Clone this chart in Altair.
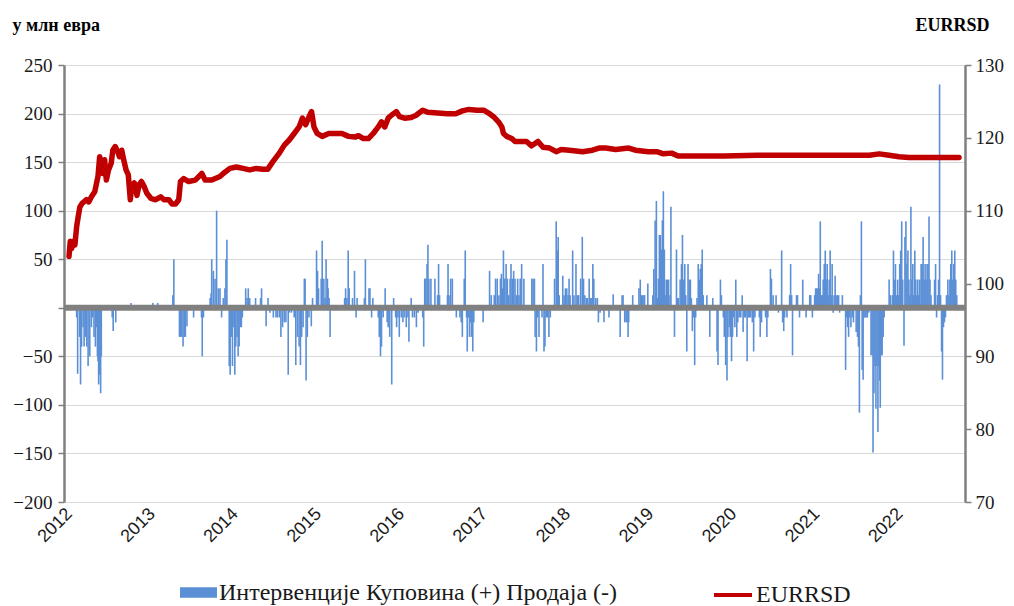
import altair as alt
import pandas as pd

# ---------------- data ----------------
year_ticks = list(range(2012, 2023))
left_ticks = list(range(-200, 251, 50))
right_ticks = list(range(70, 131, 10))

bar_label = "Интервенције Куповина (+) Продаја (-)"
fx_label = "EURRSD"

# interventions: time as years since 1 Jan 2012, value in EUR mn
bar_t = [
    0.092, 0.104, 0.127, 0.139, 0.151, 0.170, 0.182, 0.199, 0.214, 0.230,
    0.250, 0.270, 0.286, 0.301, 0.318, 0.333, 0.342, 0.349, 0.357, 0.369,
    0.381, 0.389, 0.520, 0.532, 0.563, 0.746,
    1.008, 1.068, 1.250, 1.262, 1.330, 1.345, 1.357, 1.373, 1.387, 1.401,
    1.420, 1.500, 1.595, 1.604, 1.619, 1.699, 1.711, 1.718, 1.738, 1.758,
    1.777, 1.798, 1.818, 1.837, 1.857, 1.877, 1.889, 1.901, 1.929, 1.940,
    1.956, 1.968, 1.985, 1.996,
    2.008, 2.024, 2.036, 2.048, 2.063, 2.075, 2.087, 2.127, 2.143, 2.158,
    2.175, 2.246, 2.306, 2.318, 2.373, 2.396, 2.420, 2.460, 2.492, 2.508,
    2.532, 2.551, 2.571, 2.592, 2.611, 2.639, 2.655, 2.679, 2.711, 2.730,
    2.750, 2.770, 2.786, 2.801, 2.818, 2.833, 2.842, 2.854, 2.869, 2.889,
    2.917, 2.932, 2.980, 2.992,
    3.004, 3.036, 3.048, 3.068, 3.083, 3.095, 3.111, 3.119, 3.131, 3.143,
    3.318, 3.330, 3.345, 3.361, 3.373, 3.413, 3.437, 3.456, 3.468, 3.556,
    3.568, 3.611, 3.623, 3.643, 3.658, 3.723, 3.735, 3.750, 3.762, 3.782,
    3.806, 3.830, 3.842, 3.861, 3.885, 3.908, 3.932, 3.944, 3.960, 3.976,
    4.000, 4.020, 4.039, 4.060, 4.080, 4.092, 4.119, 4.135, 4.158, 4.182,
    4.202, 4.258, 4.270, 4.282, 4.294, 4.310, 4.321, 4.333, 4.357, 4.405,
    4.437, 4.449, 4.461, 4.556, 4.563, 4.575, 4.595, 4.615, 4.663, 4.706,
    4.722, 4.735, 4.758, 4.770, 4.786, 4.794, 4.810, 4.821, 4.833, 4.845,
    4.861, 4.873, 4.985,
    5.063, 5.083, 5.119, 5.135, 5.155, 5.175, 5.194, 5.206, 5.218, 5.230,
    5.246, 5.262, 5.277, 5.294, 5.310, 5.321, 5.337, 5.353, 5.369, 5.385,
    5.401, 5.417, 5.432, 5.449, 5.476, 5.571, 5.587, 5.603, 5.611, 5.627,
    5.643, 5.658, 5.694, 5.706, 5.718, 5.730, 5.746, 5.762, 5.777, 5.794,
    5.845, 5.865, 5.877, 5.889, 5.901, 5.944, 5.960, 5.976, 5.992,
    6.008, 6.020, 6.032, 6.063, 6.079, 6.103, 6.119, 6.135, 6.159, 6.179,
    6.194, 6.210, 6.230, 6.242, 6.262, 6.277, 6.294, 6.306, 6.318, 6.341,
    6.361, 6.373, 6.393, 6.440, 6.500, 6.551, 6.635, 6.658, 6.670, 6.690,
    6.706, 6.718, 6.730, 6.738, 6.786, 6.861, 6.877, 6.889, 6.905, 6.921,
    6.929, 6.968,
    7.028, 7.040, 7.056, 7.071, 7.083, 7.095, 7.107, 7.119, 7.131, 7.143,
    7.155, 7.167, 7.179, 7.190, 7.206, 7.218, 7.235, 7.246, 7.289, 7.313,
    7.325, 7.337, 7.357, 7.373, 7.385, 7.401, 7.413, 7.425, 7.437, 7.452,
    7.468, 7.480, 7.492, 7.504, 7.520, 7.532, 7.544, 7.560, 7.575, 7.587,
    7.599, 7.611, 7.623, 7.635, 7.679, 7.714, 7.750, 7.801, 7.813, 7.842,
    7.854, 7.877, 7.889, 7.905, 7.921, 7.932, 7.949, 7.960, 7.976, 7.988,
    8.000, 8.016, 8.027, 8.039, 8.051, 8.068, 8.087, 8.104, 8.115, 8.131,
    8.146, 8.163, 8.175, 8.190, 8.206, 8.226, 8.242, 8.258, 8.310, 8.321,
    8.337, 8.385, 8.401, 8.413, 8.444, 8.456, 8.476, 8.512, 8.540, 8.579,
    8.591, 8.604, 8.615, 8.643, 8.675, 8.687, 8.699, 8.710, 8.758, 8.770,
    8.794, 8.833, 8.873, 8.917, 8.929, 8.949, 8.976, 8.988,
    9.000, 9.012, 9.024, 9.036, 9.044, 9.056, 9.068, 9.079, 9.092, 9.104,
    9.115, 9.127, 9.139, 9.151, 9.163, 9.175, 9.187, 9.199, 9.210, 9.223,
    9.235, 9.250, 9.265, 9.277, 9.310, 9.349, 9.361, 9.373, 9.385, 9.396,
    9.413, 9.429, 9.444, 9.476, 9.492, 9.504, 9.515, 9.527, 9.539, 9.548,
    9.560, 9.571, 9.583, 9.595, 9.611, 9.627, 9.655, 9.667, 9.679, 9.690,
    9.702, 9.714, 9.726, 9.738, 9.750, 9.758, 9.766, 9.777, 9.789, 9.801,
    9.813, 9.873, 9.889, 9.913, 9.925, 9.937, 9.949, 9.960, 9.976, 9.988,
    10.000, 10.012, 10.024, 10.036, 10.052, 10.063, 10.075, 10.087, 10.099, 10.111,
    10.123, 10.135, 10.147, 10.158, 10.170, 10.182, 10.194, 10.206, 10.218, 10.230,
    10.242, 10.258, 10.270, 10.282, 10.294, 10.306, 10.318, 10.330, 10.341, 10.353,
    10.365, 10.377, 10.420, 10.432, 10.444, 10.456, 10.468, 10.480, 10.492, 10.504,
    10.515, 10.527, 10.539, 10.551, 10.563, 10.580, 10.592, 10.604, 10.615, 10.627,
    10.639, 10.651, 10.663, 10.675, 10.687,
]
bar_v = [
    -10, -68, -30, -79, -40, -20, -40, -30, -40, -60,
    -50, -20, -10, -30, -40, -20, -50, -55, -79, -69,
    -88, -50, -10, -24, -15, 5,
    5, 5, 13, 50, -30, -30, -30, -40, -30, -30,
    -19, -10, -10, -50, -10, 10, 15, 50, 38, 30,
    100, 20, 20, -10, 10, 20, 50, 70, -60, -69,
    -30, -60, -20, -69,
    -40, -30, -50, -40, -20, -20, -10, 20, 10, 20,
    10, 10, 10, 20, -19, 10, -5, -10, -10, -10,
    -10, -30, -20, -15, -15, -69, -5, -5, -10, -59,
    -30, -40, -59, -30, -20, 30, 30, -75, -30, -10,
    -19, 10, 59, 38,
    20, 30, 69, 30, 10, 50, 30, 20, 10, -30,
    10, 20, 10, 59, 20, 10, 38, -10, 10, 10,
    50, 20, 20, -10, 10, -10, -30, -50, -40, -10,
    20, -15, -20, -30, -79, 10, -10, -20, -10, -30,
    -10, -15, -10, -20, -10, -35, 10, -10, -10, -20,
    -5, -10, -40, 30, 30, 45, 65, 30, 30, 30,
    13, 45, 13, 13, 45, 13, 30, 30, -10, -10,
    -15, -30, 30, 59, -10, -45, -10, -30, -15, -30,
    -45, -15, -15,
    38, 13, 13, 30, 30, 13, 30, 35, 20, 59,
    30, 45, 30, 13, 30, 45, 30, 38, 30, 13,
    30, 13, 30, 45, 30, 30, 30, 30, -30, -45,
    -10, -30, -10, 45, -45, -40, -10, -10, -30, -10,
    30, 89, 59, 73, 13, 33, 13, 20, 20,
    13, 30, 13, 59, 13, 45, 13, 13, 30, 73,
    30, 13, 10, 10, 30, 10, 10, 45, 30, 10,
    10, -15, -5, -15, -10, 14, -30, 13, 13, -15,
    -15, -15, -30, -15, 13, 20, 29, 13, 13, 13,
    13, 25,
    13, 40, 90, 110, 10, 30, 75, 75, 60, 90,
    120, 60, 13, 29, 29, 29, 13, 104, -30, 60,
    10, 10, 29, 45, 75, 29, 45, 13, -45, 45,
    29, 29, 10, -24, -10, -59, -10, 10, 45, 29,
    40, 45, 60, 13, 13, -30, 10, -45, -59, 29,
    13, -10, -30, -59, -75, -30, -20, -30, -55, -30,
    -10, -20, 29, -30, -15, -10, -10, 13, -25, -10,
    -10, -55, -10, -10, -10, -15, -45, -10, -10, -30,
    -15, -10, -30, -10, 40, 30, 13, 13, -5, 59,
    -15, -24, -10, -10, 13, 45, 13, -49, 13, 13,
    -10, 29, -10, 13, 13, -10, 13, 20,
    20, 20, 35, 20, 89, 13, 13, 29, 45, 59,
    29, 45, 13, 29, 59, 13, 45, -5, 13, 33,
    13, 13, 13, -5, 13, -64, -10, -20, -30, -10,
    -20, -10, -15, -25, -30, -40, -108, 13, 89, -64,
    -74, -10, -10, -10, -10, -5, -49, -49, -149, -88,
    -60, -104, -60, -128, -60, -75, -103, -49, -49, -30,
    -10, 29, 13, 13, 59, 29, 45, 13, 29, 13,
    45, 59, 89, 29, -39, 73, 89, 45, 59, 29,
    13, 104, 29, 45, 13, 59, 29, 13, 29, 13,
    29, 45, 45, 73, 29, 45, 29, 45, 45, 94,
    29, 13, 29, 45, -10, 13, 29, 230, 13, -45,
    -74, -20, -15, -10, 13, 29, 13, 29, 45, 59,
    29, 45, 59, 29, 13,
]

# EURRSD exchange rate: time as years since 1 Jan 2012
fx_t = [
    0.000, 0.015, 0.032, 0.051, 0.071, 0.092, 0.111, 0.131, 0.158, 0.211,
    0.238, 0.270, 0.310, 0.349, 0.369, 0.389, 0.408, 0.429, 0.449, 0.476,
    0.508, 0.527, 0.556, 0.587, 0.607, 0.635, 0.658, 0.687, 0.714, 0.738,
    0.754, 0.786, 0.818, 0.845, 0.873, 0.905, 0.937, 0.985,
    1.044, 1.104, 1.143, 1.202, 1.242, 1.282, 1.321, 1.342, 1.381, 1.440,
    1.520, 1.599, 1.639, 1.718, 1.818, 1.857, 1.937,
    2.015, 2.095, 2.175, 2.254, 2.333, 2.393, 2.452, 2.532, 2.592, 2.651,
    2.711, 2.770, 2.810, 2.849, 2.889, 2.920, 2.949, 2.988,
    3.048, 3.127, 3.206, 3.286, 3.365, 3.444, 3.485, 3.544, 3.604, 3.663,
    3.723, 3.762, 3.801, 3.842, 3.881, 3.940, 3.980,
    4.039, 4.119, 4.179, 4.258, 4.318, 4.437, 4.556, 4.655, 4.735, 4.813,
    4.913, 4.992,
    5.051, 5.111, 5.170, 5.211, 5.230, 5.270, 5.330, 5.369, 5.429, 5.508,
    5.568, 5.646, 5.706, 5.786, 5.865, 5.925,
    6.024, 6.182, 6.301, 6.381, 6.461, 6.580, 6.738, 6.818, 6.976,
    7.075, 7.155, 7.254, 7.333, 7.492, 7.690, 7.889,
    8.286, 9.080, 9.635, 9.754, 9.873, 9.992, 10.111, 10.714,
]
fx_v = [
    103.7, 105.8, 104.8, 105.8, 105.3, 107.8, 109.2, 110.5, 111.0, 111.5,
    111.2, 111.9, 112.6, 114.7, 117.4, 116.5, 115.1, 117.0, 114.2, 115.6,
    116.5, 118.3, 118.8, 118.1, 117.4, 118.3, 117.0, 115.6, 114.9, 111.5,
    113.3, 113.8, 112.1, 113.6, 114.0, 113.3, 112.4, 111.7,
    111.5, 111.9, 111.5, 111.5, 110.9, 110.9, 111.5, 114.0, 114.4, 114.0,
    114.2, 115.1, 114.2, 114.2, 114.7, 115.1, 115.8,
    116.0, 115.8, 115.6, 115.8, 115.7, 115.7, 116.7, 117.9, 119.0, 119.7,
    120.6, 121.5, 122.7, 121.8, 122.9, 123.6, 121.5, 120.6,
    120.2, 120.6, 120.6, 120.6, 120.2, 120.1, 120.3, 119.9, 119.9, 120.6,
    121.5, 122.2, 121.5, 122.7, 123.1, 123.6, 122.9,
    122.7, 122.8, 123.1, 123.8, 123.5, 123.4, 123.3, 123.3, 123.7, 123.9,
    123.8, 123.8,
    123.4, 122.9, 122.2, 121.5, 120.6, 120.2, 119.9, 119.5, 119.5, 119.5,
    118.9, 119.5, 118.7, 118.6, 118.1, 118.4,
    118.3, 118.1, 118.3, 118.6, 118.6, 118.4, 118.6, 118.3, 118.1,
    118.1, 117.8, 117.9, 117.5, 117.5, 117.5, 117.5,
    117.6, 117.6, 117.6, 117.8, 117.6, 117.4, 117.3, 117.3,
]

assert len(bar_t) == len(bar_v), (len(bar_t), len(bar_v))
assert len(fx_t) == len(fx_v), (len(fx_t), len(fx_v))

BLUE = "#5B8FD6"
RED = "#C00000"
GRAY = "#808080"
GRID = "#D9D9D9"
TXT = "#1a1a1a"
SERIF = "Liberation Serif"

bars_df = pd.DataFrame({"year": [2012 + t for t in bar_t], "value": bar_v,
                        "series": bar_label})
fx_df = pd.DataFrame({"year": [2012 + t for t in fx_t], "rate": fx_v,
                      "series": fx_label})
zero_df = pd.DataFrame({"value": [0]})

x_scale = alt.Scale(domain=[2012, 2022.726], nice=False, zero=False)
x_axis = alt.Axis(values=year_ticks, format="d", labelAngle=-45,
                  labelAlign="right", labelBaseline="middle", labelPadding=9,
                  labelFont="Liberation Sans", labelFontSize=18, labelColor=TXT,
                  domain=False, ticks=False, grid=False, title=None,
                  labelOverlap=False, labelFlush=False)

left_axis = alt.Axis(values=left_ticks, labelExpr="datum.value == 0 ? '' : datum.label",
                     title="у млн евра", titleAngle=0, titleAlign="left",
                     titleBaseline="middle", titleX=-52, titleY=-40,
                     titleFont=SERIF, titleFontSize=18,
                     titleFontWeight="bold", titleColor="#000",
                     labelFont=SERIF, labelFontSize=19,
                     labelColor=TXT, labelPadding=6, tickSize=6,
                     tickColor=GRAY, tickWidth=1.5, domainColor=GRAY,
                     domainWidth=2.5, grid=True, gridColor=GRID, gridWidth=1.2)

right_axis = alt.Axis(orient="right", values=right_ticks, title=fx_label,
                      titleAngle=0, titleAlign="center", titleBaseline="middle",
                      titleX=-13, titleY=-40, titleFont=SERIF,
                      titleFontSize=18, titleFontWeight="bold", titleColor="#000",
                      labelFont=SERIF, labelFontSize=19,
                      labelColor=TXT, labelPadding=4, tickSize=6,
                      tickColor=GRAY, tickWidth=1.5, domainColor=GRAY,
                      domainWidth=2.5, grid=False)

bars = alt.Chart(bars_df).mark_bar(size=1.6).encode(
    x=alt.X("year:Q", scale=x_scale, axis=x_axis),
    y=alt.Y("value:Q", scale=alt.Scale(domain=[-200, 250], nice=False),
            axis=left_axis),
    color=alt.Color("series:N",
                    scale=alt.Scale(domain=[bar_label], range=[BLUE]),
                    legend=alt.Legend(title=None, orient="none", legendX=116,
                                      legendY=509, padding=0,
                                      symbolType="M-1,-0.28H1V0.28H-1Z",
                                      symbolSize=1369, symbolStrokeWidth=0,
                                      labelFont=SERIF,
                                      labelFontSize=24, labelColor=TXT,
                                      labelLimit=800, labelOffset=2)),
)

zero_line = alt.Chart(zero_df).mark_rule(color=GRAY, strokeWidth=6).encode(
    y=alt.Y("value:Q")
)

left = alt.layer(bars, zero_line)

fx_line = alt.Chart(fx_df).mark_line(strokeWidth=5.5, strokeJoin="round",
                                     strokeCap="round").encode(
    x=alt.X("year:Q", scale=x_scale, axis=x_axis),
    y=alt.Y("rate:Q", scale=alt.Scale(domain=[70, 130], nice=False, zero=False),
            axis=right_axis),
    stroke=alt.Stroke("series:N",
                      scale=alt.Scale(domain=[fx_label], range=[RED]),
                      legend=alt.Legend(title=None, orient="none", legendX=648,
                                        legendY=509, padding=0,
                                        symbolType="stroke", symbolSize=1444,
                                        symbolStrokeWidth=4,
                                        symbolStrokeColor=RED,
                                        labelFont=SERIF,
                                        labelFontSize=24, labelColor=TXT,
                                        labelLimit=400, labelOffset=2)),
)

chart = alt.layer(left, fx_line).resolve_scale(
    y="independent", color="independent", stroke="independent"
).properties(
    width=901, height=437,
    padding={"left": 56, "top": 57, "right": 41, "bottom": 104},
    autosize=alt.AutoSizeParams(type="none"),
    background="white",
).configure_view(stroke=None).configure_legend(labelFont=SERIF)

chart.save("out.html", embed_options={"renderer": "svg", "actions": False})
